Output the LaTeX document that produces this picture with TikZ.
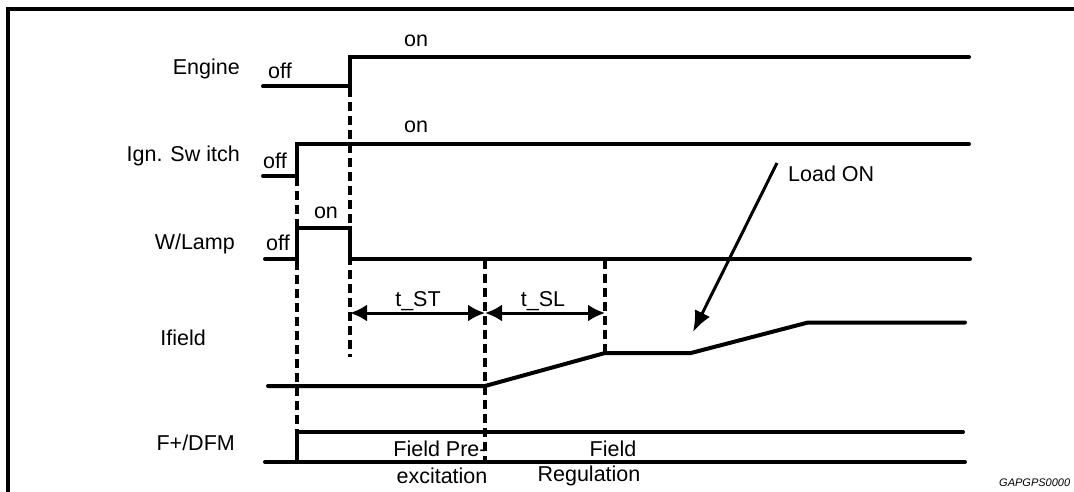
\documentclass[tikz,border=0pt]{standalone}
\usepackage{fontspec}
\setmainfont{Liberation Sans}
\usetikzlibrary{arrows.meta}
\begin{document}
\begin{tikzpicture}[x=1pt,y=-1pt,
  sig/.style={line width=4pt,line cap=round,line join=miter},
  dsh/.style={line width=3.4pt,dash pattern=on 9pt off 5pt},
  lbl/.style={font=\fontsize{21.5}{23}\selectfont,inner sep=0pt},
  dim/.style={line width=3pt,{Latex[length=17pt,width=17pt]}-{Latex[length=17pt,width=17pt]}},
  frame/.style={line width=3.4pt}]
\useasboundingbox (0,0) rectangle (1074,492);
% frame
\draw[frame] (8,493) -- (8,9) -- (1075,9);
% signal labels
\node[lbl,anchor=east] (lEng) at (240,69) {Engine};
\node[lbl,anchor=east] (lIgn) at (240,156) {Ign. Sw itch};
\node[lbl,anchor=east] (lLamp) at (235,244) {W/Lamp};
\node[lbl,anchor=east] (lIf) at (206,338) {Ifield};
\node[lbl,anchor=east] (lF) at (235,443) {F+/DFM};
% state labels
\node[lbl] (offE) at (280,71) {off};
\node[lbl] (onE) at (416,41) {on};
\node[lbl] (offI) at (275,161) {off};
\node[lbl] (onI) at (416,127) {on};
\node[lbl] (offL) at (278,243) {off};
\node[lbl] (onL) at (326,213) {on};
% dashed lines
\draw[dsh] (297,177) -- (297,440);
\draw[dsh] (350,88) -- (350,357);
\draw[dsh] (485,260) -- (485,462);
\draw[dsh] (605,260) -- (605,353);
% signals
\draw[sig] (263,86.5) -- (350,86.5) -- (350,57) -- (969,57);
\draw[sig] (263,176) -- (297,176) -- (297,144) -- (969,144);
\draw[sig] (265,259) -- (297,259) -- (297,228) -- (350,228) -- (350,259) -- (970,259);
\draw[sig] (268,386) -- (485,386) -- (605,353) -- (691,353) -- (808,322.5) -- (965,322.5);
\draw[sig] (265,462) -- (965,462);
\draw[sig] (297,462) -- (297,432) -- (963,432);
% dimension arrows
\coordinate (a1) at (350,313);
\coordinate (a2) at (485,313);
\coordinate (a3) at (605,313);
\draw[dim] (a1) -- (a2);
\draw[dim] (a2) -- (a3);
\node[lbl] (tST) at (418,301) {t\_ST};
\node[lbl] (tSL) at (543,301) {t\_SL};
% phase labels
\node[lbl] (fp1) at (440,449) {Field Pre-};
\node[lbl] (fp2) at (442,476) {excitation};
\node[lbl] (fr1) at (613,449) {Field};
\node[lbl] (fr2) at (589,476) {Regulation};
% load on
\node[lbl,anchor=west] (load) at (788,174) {Load ON};
\coordinate (ltop) at (777,163);
\coordinate (ltip) at (693,332);
\draw[line width=3pt,-{Latex[length=21pt,width=17pt]}] (ltop) -- (ltip);
% figure id
\node[font=\fontsize{11}{12}\selectfont\itshape,anchor=west,inner sep=0pt] (gid) at (999,483) {GAPGPS0000};
\end{tikzpicture}
\end{document}
